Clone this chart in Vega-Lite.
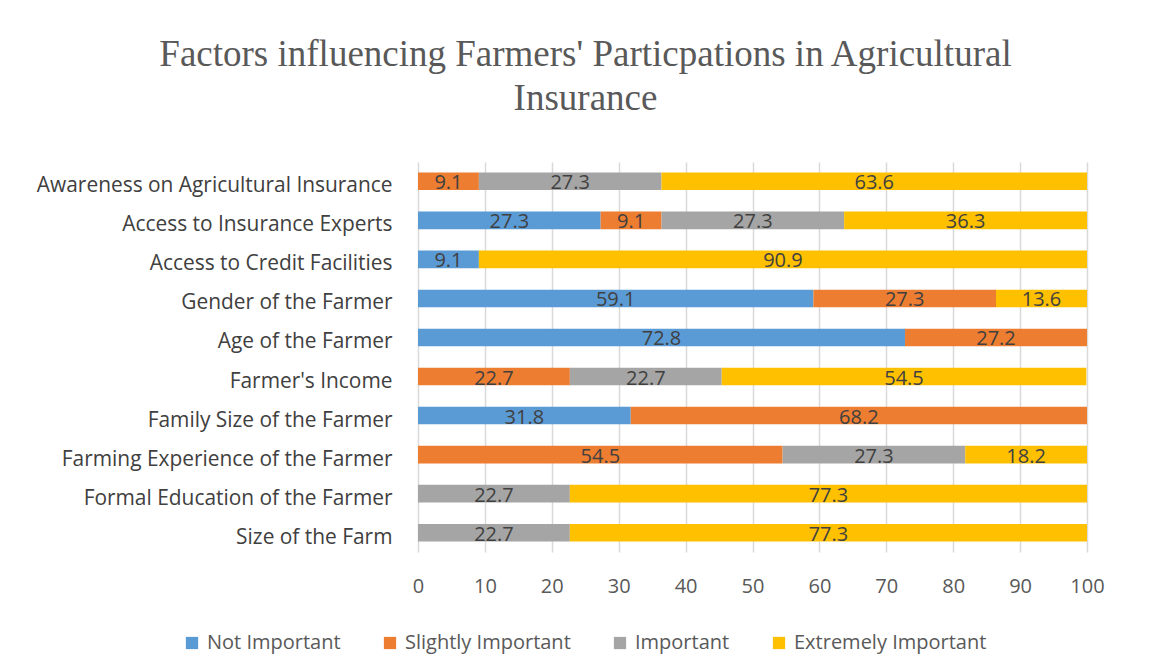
{
  "$schema": "https://vega.github.io/schema/vega-lite/v6.json",
  "width": 669,
  "height": 390,
  "autosize": {"type": "none"},
  "padding": {"left": 418, "top": 162, "right": 67, "bottom": 120},
  "background": "white",
  "title": {
    "text": ["Factors influencing Farmers' Particpations in Agricultural", "Insurance"],
    "font": "Liberation Serif",
    "fontSize": 37,
    "fontWeight": "normal",
    "color": "#595959",
    "anchor": "middle",
    "dx": -167,
    "offset": 44,
    "lineHeight": 44
  },
  "data": {
    "values": [
      {"factor": "Awareness on Agricultural Insurance", "level": "Slightly Important", "ord": 2, "pct": 9.1},
      {"factor": "Awareness on Agricultural Insurance", "level": "Important", "ord": 3, "pct": 27.3},
      {"factor": "Awareness on Agricultural Insurance", "level": "Extremely Important", "ord": 4, "pct": 63.6},
      {"factor": "Access to Insurance Experts", "level": "Not Important", "ord": 1, "pct": 27.3},
      {"factor": "Access to Insurance Experts", "level": "Slightly Important", "ord": 2, "pct": 9.1},
      {"factor": "Access to Insurance Experts", "level": "Important", "ord": 3, "pct": 27.3},
      {"factor": "Access to Insurance Experts", "level": "Extremely Important", "ord": 4, "pct": 36.3},
      {"factor": "Access to Credit Facilities", "level": "Not Important", "ord": 1, "pct": 9.1},
      {"factor": "Access to Credit Facilities", "level": "Extremely Important", "ord": 4, "pct": 90.9},
      {"factor": "Gender of the Farmer", "level": "Not Important", "ord": 1, "pct": 59.1},
      {"factor": "Gender of the Farmer", "level": "Slightly Important", "ord": 2, "pct": 27.3},
      {"factor": "Gender of the Farmer", "level": "Extremely Important", "ord": 4, "pct": 13.6},
      {"factor": "Age of the Farmer", "level": "Not Important", "ord": 1, "pct": 72.8},
      {"factor": "Age of the Farmer", "level": "Slightly Important", "ord": 2, "pct": 27.2},
      {"factor": "Farmer's Income", "level": "Slightly Important", "ord": 2, "pct": 22.7},
      {"factor": "Farmer's Income", "level": "Important", "ord": 3, "pct": 22.7},
      {"factor": "Farmer's Income", "level": "Extremely Important", "ord": 4, "pct": 54.5},
      {"factor": "Family Size of the Farmer", "level": "Not Important", "ord": 1, "pct": 31.8},
      {"factor": "Family Size of the Farmer", "level": "Slightly Important", "ord": 2, "pct": 68.2},
      {"factor": "Farming Experience of the Farmer", "level": "Slightly Important", "ord": 2, "pct": 54.5},
      {"factor": "Farming Experience of the Farmer", "level": "Important", "ord": 3, "pct": 27.3},
      {"factor": "Farming Experience of the Farmer", "level": "Extremely Important", "ord": 4, "pct": 18.2},
      {"factor": "Formal Education of the Farmer", "level": "Important", "ord": 3, "pct": 22.7},
      {"factor": "Formal Education of the Farmer", "level": "Extremely Important", "ord": 4, "pct": 77.3},
      {"factor": "Size of the Farm", "level": "Important", "ord": 3, "pct": 22.7},
      {"factor": "Size of the Farm", "level": "Extremely Important", "ord": 4, "pct": 77.3}
    ]
  },
  "transform": [
    {"stack": "pct", "groupby": ["factor"], "sort": [{"field": "ord", "order": "ascending"}], "as": ["p0", "p1"]},
    {"calculate": "(datum.p0 + datum.p1) / 2", "as": "pmid"}
  ],
  "encoding": {
    "y": {
      "field": "factor",
      "type": "nominal",
      "sort": ["Awareness on Agricultural Insurance", "Access to Insurance Experts", "Access to Credit Facilities", "Gender of the Farmer", "Age of the Farmer", "Farmer's Income", "Family Size of the Farmer", "Farming Experience of the Farmer", "Formal Education of the Farmer", "Size of the Farm"],
      "scale": {"paddingInner": 0.55, "paddingOuter": 0.27},
      "axis": {
        "title": null,
        "domain": false,
        "ticks": false,
        "labelFont": "Open Sans",
        "labelFontSize": 20.9,
        "labelColor": "#404040",
        "labelPadding": 26,
        "labelOffset": 5,
        "labelLimit": 0
      }
    }
  },
  "layer": [
    {
      "mark": {"type": "bar"},
      "encoding": {
        "x": {
          "field": "p0",
          "type": "quantitative",
          "scale": {"domain": [0, 100], "nice": false},
          "axis": {
            "title": null,
            "values": [0, 10, 20, 30, 40, 50, 60, 70, 80, 90, 100],
            "domain": false,
            "ticks": false,
            "grid": true,
            "gridColor": "#D9D9D9",
            "gridWidth": 1.5,
            "labelFlush": false,
            "labelFont": "Open Sans",
            "labelFontSize": 20,
            "labelColor": "#595959",
            "labelPadding": 24
          }
        },
        "x2": {"field": "p1"},
        "color": {
          "field": "level",
          "type": "nominal",
          "scale": {
            "domain": ["Not Important", "Slightly Important", "Important", "Extremely Important"],
            "range": ["#5B9BD5", "#ED7D31", "#A5A5A5", "#FFC000"]
          },
          "legend": {
            "title": null,
            "orient": "none",
            "direction": "horizontal",
            "legendX": -236,
            "legendY": 471,
            "symbolType": "square",
            "symbolSize": 150,
            "symbolStrokeWidth": 0,
            "labelFont": "Open Sans",
            "labelFontSize": 20,
            "labelColor": "#595959",
            "labelOffset": 5,
            "columnPadding": 39,
            "labelLimit": 0
          }
        }
      }
    },
    {
      "mark": {"type": "text", "font": "Open Sans", "fontSize": 20, "color": "#404040", "baseline": "middle", "align": "center", "dy": 2},
      "encoding": {
        "x": {"field": "pmid", "type": "quantitative"},
        "text": {"field": "pct", "type": "quantitative", "format": ".1f"}
      }
    }
  ],
  "config": {"view": {"stroke": null}}
}
